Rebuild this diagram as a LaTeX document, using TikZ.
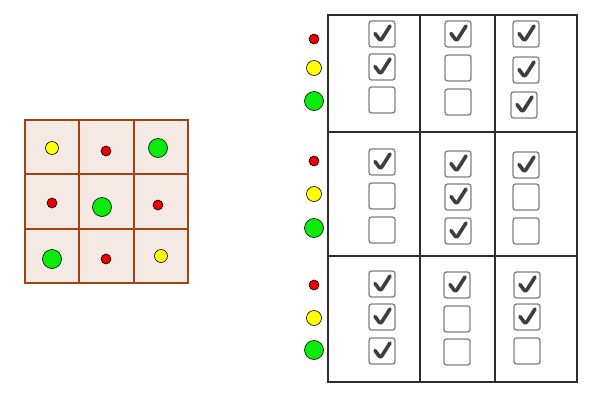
\documentclass[tikz,border=0pt]{standalone}
\usepackage{tikz}
\definecolor{cellbrown}{RGB}{160,68,22}
\definecolor{cellfill}{RGB}{245,233,227}
\definecolor{gridgray}{RGB}{45,45,45}
\definecolor{boxgray}{RGB}{128,128,128}
\definecolor{tickgray}{RGB}{62,62,62}
\definecolor{dotred}{RGB}{235,0,0}
\definecolor{dotyellow}{RGB}{255,255,0}
\definecolor{dotgreen}{RGB}{10,235,10}

\begin{document}
\begin{tikzpicture}[x=1pt, y=-1pt,
  cell/.style={draw=cellbrown, line width=2.3pt, fill=cellfill, minimum size=54.5pt, inner sep=0pt},
  dot/.style={circle, draw=black, line width=0.6pt, inner sep=0pt},
  reddot/.style={dot, fill=dotred, minimum size=10pt},
  yellowdot/.style={dot, fill=dotyellow, minimum size=13pt},
  greendot/.style={dot, fill=dotgreen, minimum size=19pt},
  chkbox/.style={draw=boxgray, line width=1.3pt, rounded corners=2.5pt, minimum size=26pt, inner sep=0pt, fill=white},
  ticked/.style={chkbox, path picture={\draw[tickgray, line width=3.6pt, line cap=round, line join=round]
    ([shift={(-7,-0.5)}]path picture bounding box.center) -- ++(5.5,7.5) -- ++(9.5,-15);}}]
\useasboundingbox (0,0) rectangle (600,410);

% Left grid
\foreach \r/\cy in {1/147, 2/201.5, 3/256}
  \foreach \c/\cx in {1/52, 2/106.5, 3/161}
    \node[cell] (cell-\r-\c) at (\cx,\cy) {};

\foreach \x/\y/\s [count=\i] in {52/148/yellowdot, 106/151/reddot, 158/148/greendot,
    52/203/reddot, 102/207/greendot, 158/205/reddot,
    52/259/greendot, 106/259/reddot, 161/256/yellowdot}
  \node[\s] (gdot\i) at (\x,\y) {};

% Table
\draw[gridgray, line width=2.2pt] (328,15) rectangle (577,382);
\draw[gridgray, line width=2.2pt] (420,15) -- (420,382);
\draw[gridgray, line width=2.2pt] (495,15) -- (495,382);
\draw[gridgray, line width=2.2pt] (328,132) -- (577,132);
\draw[gridgray, line width=2.2pt] (328,256) -- (577,256);

% Legend dots
\foreach \y [count=\i] in {39, 161, 285} {
  \node[reddot] (red\i) at (314,\y) {};
}
\foreach \y [count=\i] in {68, 194, 318} {
  \node[yellowdot, minimum size=15pt] (yellow\i) at (314,\y) {};
}
\foreach \y [count=\i] in {101, 228, 350} {
  \node[greendot] (green\i) at (314,\y) {};
}

% Checkboxes
\foreach \x/\y/\s [count=\i] in {
    382/34/ticked, 382/67/ticked, 382/100/chkbox,
    458/34/ticked, 458/68/chkbox, 458/102/chkbox,
    526/34/ticked, 526/70/ticked, 524/105/ticked,
    382/162/ticked, 382/196/chkbox, 382/230/chkbox,
    458/164/ticked, 458/197/ticked, 458/231/ticked,
    526/165/ticked, 526/197/chkbox, 526/231/chkbox,
    382/284/ticked, 382/317/ticked, 382/351/ticked,
    457/285/ticked, 457/319/chkbox, 457/352/chkbox,
    527/285/ticked, 527/317/ticked, 527/351/chkbox}
  \node[\s] (box\i) at (\x,\y) {};
\end{tikzpicture}
\end{document}
